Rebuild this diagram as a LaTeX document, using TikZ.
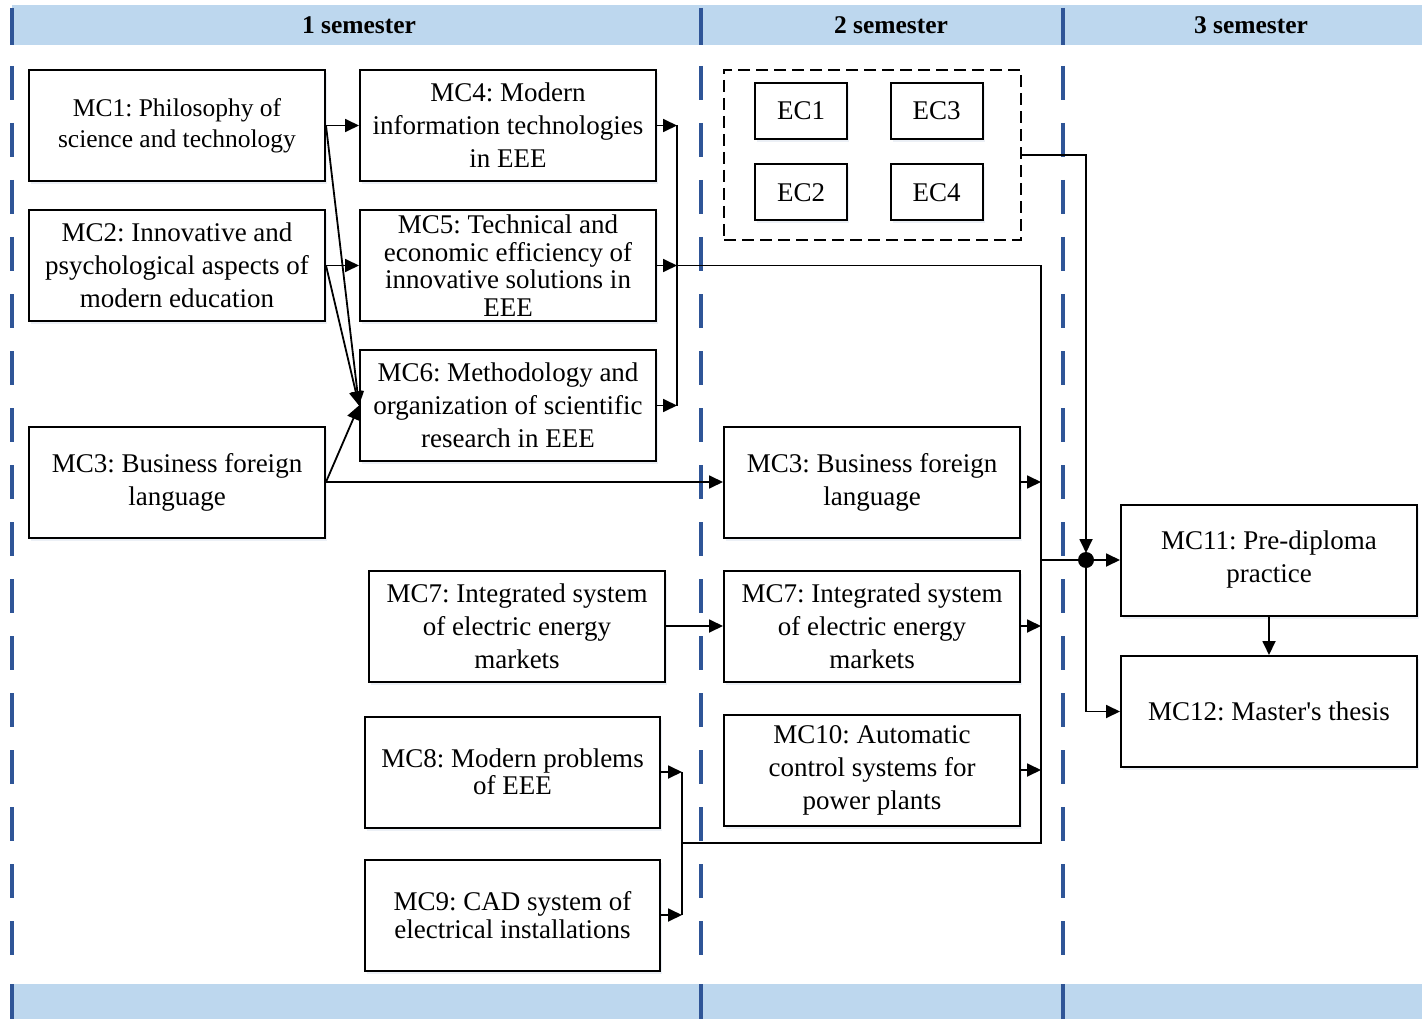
\documentclass[tikz,border=0pt]{standalone}
\usepackage{fontspec}
\setmainfont{Liberation Serif}[Ligatures=TeXOff]
\usetikzlibrary{arrows.meta,shadows}
\definecolor{band}{HTML}{BDD7EE}
\definecolor{lane}{HTML}{2F5597}
\begin{document}
\frenchspacing
\begin{tikzpicture}[x=1pt,y=-1pt,
  box/.style={draw=black, line width=2pt, fill=white, minimum width=296pt, minimum height=111pt,
    align=center, inner sep=3pt, font=\fontsize{27}{33}\selectfont,
    drop shadow={shadow xshift=2pt, shadow yshift=-3pt, fill=lane!9, opacity=1}},
  tight/.style={font=\fontsize{27}{27.5}\selectfont},
  ecbox/.style={box, minimum width=92pt, minimum height=56pt},
  arr/.style={-{Triangle[length=14pt,width=13pt]}, line width=1.8pt},
  wire/.style={line width=1.8pt},
  lanel/.style={draw=lane, line width=4pt},
  hdr/.style={font=\fontsize{25.5}{28}\selectfont\bfseries}
]
\useasboundingbox (0,0) rectangle (1422,1019);
% bands
\fill[band] (12,5) rectangle (1422,45);
\fill[band] (12,984) rectangle (1422,1019);
\node[hdr] (h1) at (359,25) {1 semester};
\node[hdr] (h2) at (891,25) {2 semester};
\node[hdr] (h3) at (1251,25) {3 semester};
% lane lines
\foreach \x in {12,701,1063}{
  \draw[lanel] (\x,8) -- (\x,45);
  \draw[lanel] (\x,984) -- (\x,1019);
  \draw[lanel, dash pattern=on 34pt off 23pt] (\x,66) -- (\x,975);
}
% semester 1
\node[box, font=\fontsize{25.5}{31}\selectfont] (mc1) at (177,125.5) {MC1: Philosophy of\\science and technology};
\node[box] (mc2) at (177,265.5) {MC2: Innovative and\\psychological aspects of\\modern education};
\node[box] (mc3a) at (177,482) {MC3: Business foreign\\language};
\node[box] (mc4) at (508,125.5) {MC4: Modern\\information technologies\\in EEE};
\node[box, tight] (mc5) at (508,265.5) {MC5: Technical and\\economic efficiency of\\innovative solutions in\\EEE};
\node[box] (mc6) at (508,405.5) {MC6: Methodology and\\organization of scientific\\research in EEE};
\node[box] (mc7a) at (517,626) {MC7: Integrated system\\of electric energy\\markets};
\node[box, tight, minimum width=295pt] (mc8) at (512.5,772) {MC8: Modern problems\\of EEE};
\node[box, tight, minimum width=295pt] (mc9) at (512.5,915) {MC9: CAD system of\\electrical installations};
% semester 2
\node[draw=black, line width=2pt, dash pattern=on 12pt off 6pt, minimum width=297pt, minimum height=170pt] (ecg) at (872.5,155) {};
\node[ecbox] (ec1) at (801,111) {EC1};
\node[ecbox] (ec3) at (936.5,111) {EC3};
\node[ecbox] (ec2) at (801,192.5) {EC2};
\node[ecbox] (ec4) at (936.5,192.5) {EC4};
\node[box] (mc3b) at (872,482) {MC3: Business foreign\\language};
\node[box] (mc7b) at (872,626) {MC7: Integrated system\\of electric energy\\markets};
\node[box] (mc10) at (872,770) {MC10: Automatic\\control systems for\\power plants};
% semester 3
\node[box] (mc11) at (1269,560) {MC11: Pre-diploma\\practice};
\node[box] (mc12) at (1269,711.5) {MC12: Master's thesis};
% coordinates
\coordinate (b4) at (677,125.5);
\coordinate (b5) at (677,265.5);
\coordinate (b6) at (677,405.5);
\coordinate (b8) at (682,772);
\coordinate (b9) at (682,915);
\coordinate (bm) at (682,843);
\coordinate (r1) at (1041,265.5);
\coordinate (r2) at (1041,843);
\coordinate (r3) at (1041,482);
\coordinate (r7) at (1041,626);
\coordinate (r10) at (1041,770);
\coordinate (rj) at (1041,560);
\coordinate (jd) at (1086,560);
\coordinate (ect) at (1086,155);
\coordinate (j12) at (1086,711.5);
% connectors semester 1
\draw[arr] (mc1.east) -- (mc4.west);
\draw[arr] (mc1.east) -- (mc6.west);
\draw[arr] (mc2.east) -- (mc5.west);
\draw[arr] (mc2.east) -- (mc6.west);
\draw[arr] (mc3a.east) -- (mc6.west);
\draw[arr] (mc3a.east) -- (mc3b.west);
\draw[arr] (mc7a.east) -- (mc7b.west);
\draw[arr] (mc4.east) -- (b4);
\draw[arr] (mc5.east) -- (b5);
\draw[arr] (mc6.east) -- (b6);
\draw[wire] (b4) -- (b6);
\draw[arr] (mc8.east) -- (b8);
\draw[arr] (mc9.east) -- (b9);
\draw[wire] (b8) -- (b9);
% bus
\draw[wire] (b5) -- (r1) -- (r2) -- (bm);
\draw[arr] (mc3b.east) -- (r3);
\draw[arr] (mc7b.east) -- (r7);
\draw[arr] (mc10.east) -- (r10);
\draw[wire] (rj) -- (jd);
\draw[arr] (jd) -- (mc11.west);
\draw[arr, shorten >=7pt] (ecg.east |- ect) -- (ect) -- (jd);
\draw[arr] (jd) -- (j12) -- (mc12.west);
\fill (jd) circle (8pt);
\draw[arr] (mc11.south) -- (mc12.north);
\end{tikzpicture}
\end{document}
